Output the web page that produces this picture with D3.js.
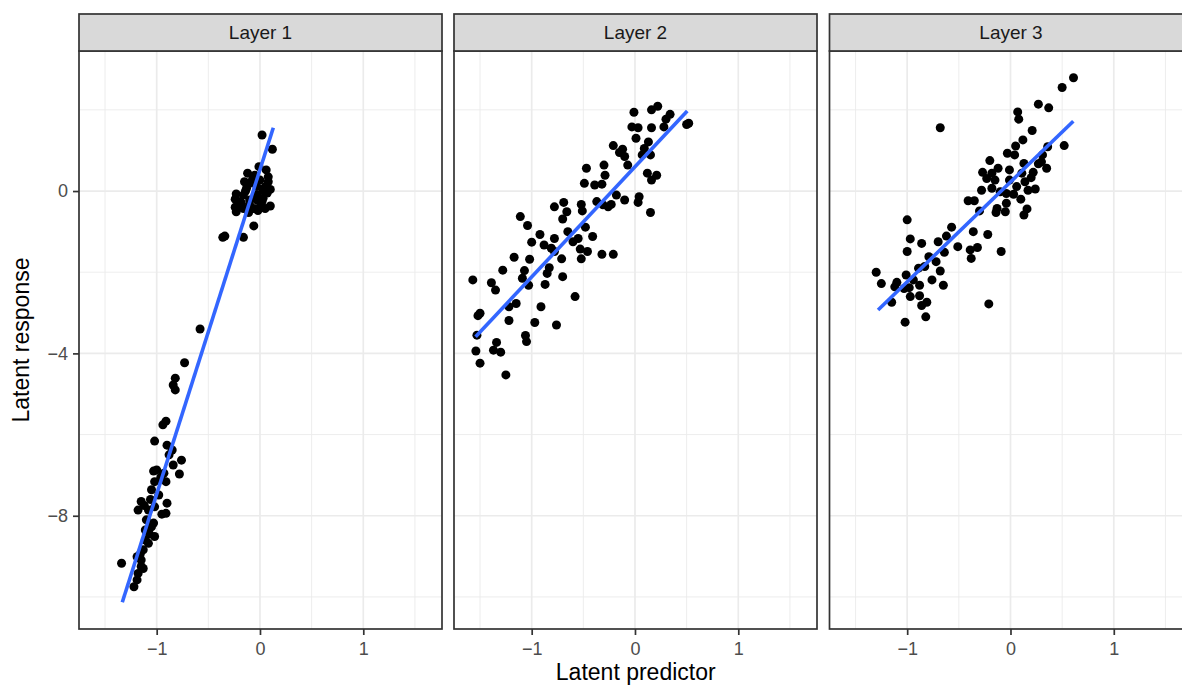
<!DOCTYPE html>
<html><head><meta charset="utf-8">
<script src="https://cdn.jsdelivr.net/npm/d3@7"></script>
<style>body{margin:0;background:#fff}svg{display:block;font-family:"Liberation Sans",Arial,sans-serif}</style>
</head><body>
<svg id="c" width="1182" height="687"></svg>
<script>
const layers = ["Layer 1", "Layer 2", "Layer 3"];
const xTicks = [-1, 0, 1];
const xMinor = [-1.5, -0.5, 0.5, 1.5];
const yTicks = [0, -4, -8];
const yMinor = [2, -2, -6, -10];

const layer1X = [0.02,0.12,-0.01,0.06,-0.12,-0.05,0.08,-0.15,0.00,-0.10,0.08,-0.13,-0.03,0.10,-0.23,-0.16,-0.03,0.03,-0.24,-0.19,-0.10,0.02,0.10,-0.24,-0.16,-0.06,0.05,-0.23,-0.11,-0.02,-0.06,-0.34,-0.36,-0.16,-0.08,0.03,-0.18,0.00,-0.10,-0.03,-0.07,0.05,-0.20,0.07,-0.14,
 -0.58,-0.73,-0.82,-0.84,-0.82,-0.91,-0.94,-1.02,-0.90,-0.85,-0.76,-0.84,-0.78,-1.03,-1.00,-0.91,-1.02,-1.05,-0.98,-0.90,-1.15,-1.18,-1.08,-0.95,-1.02,-1.10,-1.03,-1.11,-1.02,-1.08,-1.13,-1.19,-1.15,-1.34,-1.15,-1.18,-1.19,-1.22,-1.11,-1.05,-0.91,-1.06,-1.12,-0.96,-1.07,-1.16,-1.13,-0.88,-0.93];
const layer1Y = [1.38,1.03,0.60,0.52,0.44,0.39,0.35,0.23,0.27,0.19,0.23,0.07,0.11,0.04,-0.07,-0.10,-0.10,-0.18,-0.20,-0.26,-0.22,-0.26,-0.37,-0.40,-0.43,-0.43,-0.43,-0.51,-0.53,-0.48,-0.86,-1.11,-1.14,-1.14,0.23,0.02,-0.30,-0.39,-0.34,-0.22,0.30,0.10,-0.35,-0.05,0.00,
 -3.40,-4.23,-4.61,-4.78,-4.90,-5.67,-5.76,-6.16,-6.26,-6.38,-6.63,-6.75,-6.97,-6.90,-6.87,-7.16,-7.16,-7.36,-7.49,-7.69,-7.65,-7.86,-7.86,-7.96,-7.78,-8.10,-8.18,-8.35,-8.51,-8.68,-8.84,-9.01,-9.09,-9.17,-9.25,-9.42,-9.58,-9.75,-8.60,-8.27,-7.94,-7.60,-7.75,-7.05,-8.45,-8.95,-9.30,-6.50,-6.95];

const layer2X = [0.22,0.16,-0.01,0.34,0.30,0.28,0.50,0.52,-0.03,0.03,0.16,0.01,0.13,-0.21,-0.12,-0.15,0.09,0.07,0.15,-0.10,-0.07,-0.30,-0.47,-0.29,0.12,0.21,0.16,-0.49,-0.39,-0.32,-0.18,-0.10,0.04,0.03,-0.37,-0.31,-0.23,-0.26,0.15,-0.52,-0.51,-0.78,-0.69,-0.66,-0.70,-1.11,-1.04,-0.48,-0.65,-0.41,-0.92,-0.78,-0.55,-1.00,-0.88,-0.81,-0.53,-0.46,-0.32,-0.21,-0.52,-0.71,-1.17,-1.02,-1.28,-0.83,-1.07,-0.85,-1.09,-0.70,-1.57,-1.39,-1.35,-1.03,-0.87,-0.58,-1.15,-1.22,-0.91,-1.50,-1.52,-1.22,-0.97,-0.76,-1.53,-1.06,-1.05,-1.34,-1.37,-1.30,-1.54,-1.50,-1.25,-0.60,-0.78];
const layer2Y = [2.09,2.00,1.94,1.89,1.77,1.58,1.64,1.67,1.58,1.56,1.56,1.30,1.21,1.12,1.03,0.95,1.05,0.89,0.89,0.85,0.64,0.64,0.56,0.39,0.44,0.39,0.27,0.19,0.15,0.17,-0.10,-0.22,-0.14,-0.28,-0.26,-0.34,-0.33,-0.39,-0.53,-0.33,-0.49,-0.39,-0.28,-0.51,-0.69,-0.63,-0.85,-0.89,-1.00,-1.12,-1.07,-1.17,-1.17,-1.26,-1.33,-1.41,-1.43,-1.49,-1.56,-1.56,-1.67,-1.67,-1.63,-1.68,-1.95,-1.89,-1.96,-2.03,-2.15,-2.11,-2.19,-2.26,-2.44,-2.32,-2.30,-2.60,-2.77,-2.85,-2.85,-3.01,-3.07,-3.19,-3.24,-3.30,-3.55,-3.56,-3.71,-3.73,-3.92,-3.97,-3.94,-4.24,-4.53,-1.25,-1.49];

const layer3X = [0.61,0.50,0.27,0.37,0.07,0.08,-0.68,0.21,0.12,0.52,0.36,0.05,-0.03,0.04,0.31,-0.20,0.13,0.27,0.35,-0.12,-0.01,-0.27,-0.18,0.22,0.11,-0.15,0.14,-0.28,-0.18,0.06,0.24,0.17,-0.10,-0.04,0.03,0.10,-0.41,-0.35,-0.04,-0.13,-0.30,0.16,-0.05,-0.14,0.13,-1.00,-0.57,-0.36,-0.22,-0.62,-0.97,-0.70,-0.86,-0.51,-0.32,-0.39,-0.64,-0.09,-1.00,-0.38,-0.79,-0.72,-0.83,-0.89,-0.68,-1.30,-1.01,-0.76,-0.94,-1.25,-1.10,-0.88,-0.65,-1.12,-0.98,-1.03,-0.97,-0.88,-1.15,-0.81,-0.86,-0.21,-0.82,-1.02,-0.23,-0.01,0.20,0.30];
const layer3Y = [2.79,2.55,2.14,2.05,1.95,1.77,1.56,1.49,1.26,1.12,1.09,1.11,0.93,0.89,0.89,0.75,0.68,0.67,0.56,0.56,0.52,0.46,0.44,0.46,0.44,0.27,0.23,0.02,0.07,0.11,0.05,0.02,-0.02,-0.06,-0.08,-0.20,-0.24,-0.24,-0.30,-0.43,-0.49,-0.44,-0.51,-0.53,-0.59,-0.71,-0.89,-1.00,-1.07,-1.11,-1.18,-1.25,-1.29,-1.37,-1.39,-1.45,-1.51,-1.49,-1.49,-1.66,-1.62,-1.74,-1.86,-1.90,-1.97,-2.00,-2.07,-2.19,-2.19,-2.28,-2.25,-2.32,-2.32,-2.36,-2.38,-2.40,-2.60,-2.58,-2.74,-2.74,-2.82,-2.78,-3.10,-3.23,0.31,0.27,0.33,0.72];

const fitX = [[-1.333, 0.129], [-1.543, 0.506], [-1.282, 0.608]];
const fitY = [[-10.13, 1.56], [-3.59, 1.97], [-2.93, 1.72]];

const allX = [layer1X, layer2X, layer3X];
const allY = [layer1Y, layer2Y, layer3Y];

const svg = d3.select("#c");
const panelLeft = [79, 454, 829.5], pw = 363, pTop = 51, pBot = 629, sTop = 14;
const y = d3.scaleLinear().domain([-10.79, 3.45]).range([pBot, pTop]);
const fmt = d => (d < 0 ? "\u2212" + Math.abs(d) : String(d));
const border = "#333333";
const FF = "Liberation Sans, Arial, sans-serif";

layers.forEach((name, i) => {
  const L = panelLeft[i];
  const x = d3.scaleLinear().domain([-1.752, 1.762]).range([L, L + pw]);
  const g = svg.append("g");
  g.append("rect").attr("x", L).attr("y", pTop).attr("width", pw).attr("height", pBot - pTop).attr("fill", "#fff");
  g.selectAll(".mx").data(xMinor).join("line").attr("x1", d => x(d)).attr("x2", d => x(d)).attr("y1", pTop).attr("y2", pBot).attr("stroke", "#EBEBEB").attr("stroke-width", 0.9);
  g.selectAll(".my").data(yMinor).join("line").attr("y1", d => y(d)).attr("y2", d => y(d)).attr("x1", L).attr("x2", L + pw).attr("stroke", "#EBEBEB").attr("stroke-width", 0.9);
  g.selectAll(".Mx").data(xTicks).join("line").attr("x1", d => x(d)).attr("x2", d => x(d)).attr("y1", pTop).attr("y2", pBot).attr("stroke", "#EBEBEB").attr("stroke-width", 1.7);
  g.selectAll(".My").data(yTicks).join("line").attr("y1", d => y(d)).attr("y2", d => y(d)).attr("x1", L).attr("x2", L + pw).attr("stroke", "#EBEBEB").attr("stroke-width", 1.7);
  const pts = allX[i].map((v, k) => [v, allY[i][k]]);
  g.selectAll("circle").data(pts).join("circle").attr("cx", d => x(d[0])).attr("cy", d => y(d[1])).attr("r", 4.5).attr("fill", "#000");
  const line = d3.line().x(d => x(d[0])).y(d => y(d[1]));
  g.append("path").datum(fitX[i].map((v, k) => [v, fitY[i][k]])).attr("d", line).attr("fill", "none").attr("stroke", "#3366FF").attr("stroke-width", 3.6);
  g.append("rect").attr("x", L).attr("y", pTop).attr("width", pw).attr("height", pBot - pTop).attr("fill", "none").attr("stroke", border).attr("stroke-width", 1.7);
  g.append("rect").attr("x", L).attr("y", sTop).attr("width", pw).attr("height", pTop - sTop).attr("fill", "#D9D9D9").attr("stroke", border).attr("stroke-width", 1.7);
  g.append("text").attr("x", L + pw / 2).attr("y", (sTop + pTop) / 2).attr("dy", "0.36em").attr("text-anchor", "middle").attr("font-size", 19).attr("font-family", FF).attr("fill", "#1A1A1A").text(name);
  const ax = svg.append("g").attr("transform", `translate(0,${pBot})`).call(d3.axisBottom(x).tickValues(xTicks).tickFormat(fmt).tickSize(6).tickPadding(7));
  ax.attr("font-size", null);
  ax.select(".domain").remove();
  ax.selectAll(".tick line").attr("stroke", border).attr("stroke-width", 1.7);
  ax.selectAll("text").style("font-size", "18px").attr("fill", "#4D4D4D").style("font-family", FF);
});

const ay = svg.append("g").attr("transform", `translate(${panelLeft[0]},0)`).call(d3.axisLeft(y).tickValues(yTicks).tickFormat(fmt).tickSize(6).tickPadding(5));
ay.select(".domain").remove();
ay.selectAll(".tick line").attr("stroke", border).attr("stroke-width", 1.7);
ay.selectAll("text").style("font-size", "18px").attr("fill", "#4D4D4D").style("font-family", FF);

svg.append("text").attr("x", (panelLeft[0] + panelLeft[2] + pw) / 2).attr("y", 680).attr("text-anchor", "middle").style("font-size", "23px").style("font-family", FF).attr("fill", "#000").text("Latent predictor");
svg.append("text").attr("transform", `translate(29,${(pTop + pBot) / 2}) rotate(-90)`).attr("text-anchor", "middle").style("font-size", "23px").style("font-family", FF).attr("fill", "#000").text("Latent response");
</script>
</body></html>
